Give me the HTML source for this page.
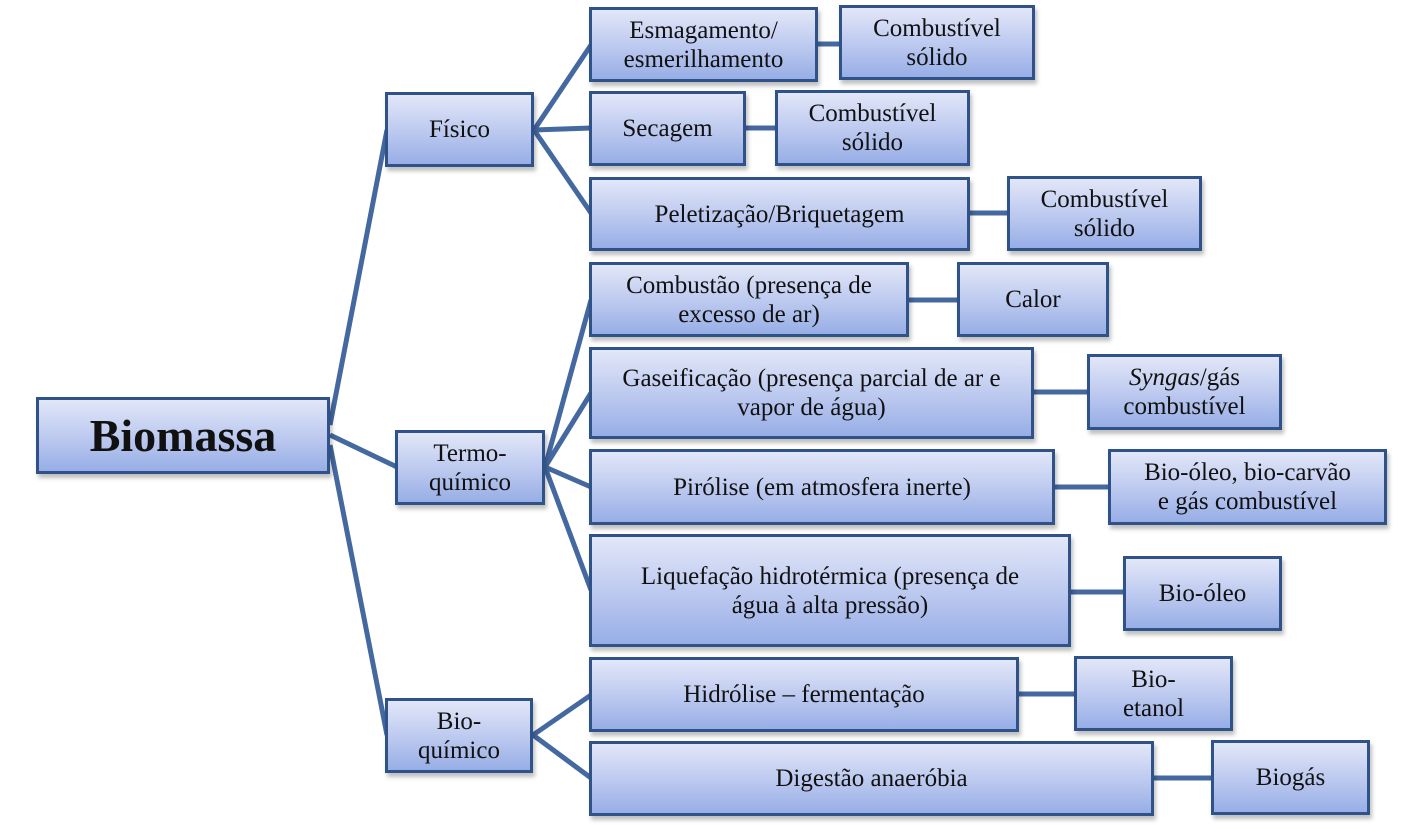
<!DOCTYPE html>
<html><head><meta charset="utf-8"><style>
body{margin:0;width:1425px;height:825px;background:#fff;position:relative;overflow:hidden;font-family:"Liberation Serif",serif;}
svg{position:absolute;left:0;top:0}
.b{position:absolute;box-sizing:border-box;border:3px solid #2f5289;background:linear-gradient(#e2e7f8,#b7c5ee 60%,#97aee6);display:flex;align-items:center;justify-content:center;text-align:center;font-size:25px;line-height:29px;color:#111;box-shadow:2px 4px 4px rgba(0,0,0,0.25);}
</style></head><body>
<svg width="1425" height="825"><g stroke="#4468a0" stroke-width="5" fill="none">
<line x1="330" y1="425" x2="387" y2="130"/>
<line x1="330" y1="435" x2="397" y2="467"/>
<line x1="330" y1="445" x2="387" y2="735"/>
<line x1="534" y1="130" x2="591" y2="45"/>
<line x1="534" y1="130" x2="591" y2="128"/>
<line x1="534" y1="130" x2="591" y2="213"/>
<line x1="545" y1="467" x2="591" y2="300"/>
<line x1="545" y1="467" x2="591" y2="393"/>
<line x1="545" y1="467" x2="591" y2="487"/>
<line x1="545" y1="467" x2="591" y2="590"/>
<line x1="533" y1="735" x2="591" y2="695"/>
<line x1="533" y1="735" x2="591" y2="778"/>
<line x1="818" y1="44" x2="841" y2="44"/>
<line x1="746" y1="128" x2="777" y2="128"/>
<line x1="970" y1="213" x2="1009" y2="213"/>
<line x1="909" y1="300" x2="959" y2="300"/>
<line x1="1034" y1="392" x2="1089" y2="392"/>
<line x1="1055" y1="487" x2="1110" y2="487"/>
<line x1="1071" y1="592" x2="1125" y2="592"/>
<line x1="1019" y1="694" x2="1076" y2="694"/>
<line x1="1154" y1="778" x2="1213" y2="778"/>
</g></svg>
<div class="b" style="left:36px;top:397px;width:294px;height:77px;font-size:46px;font-weight:bold;">Biomassa</div>
<div class="b" style="left:385px;top:92px;width:149px;height:75px">Físico</div>
<div class="b" style="left:395px;top:430px;width:150px;height:75px">Termo-<br>químico</div>
<div class="b" style="left:385px;top:698px;width:148px;height:75px">Bio-<br>químico</div>
<div class="b" style="left:589px;top:7px;width:229px;height:75px">Esmagamento/<br>esmerilhamento</div>
<div class="b" style="left:589px;top:91px;width:157px;height:75px">Secagem</div>
<div class="b" style="left:589px;top:177px;width:381px;height:74px">Peletização/Briquetagem</div>
<div class="b" style="left:589px;top:262px;width:320px;height:75px">Combustão (presença de<br>excesso de ar)</div>
<div class="b" style="left:589px;top:347px;width:445px;height:92px">Gaseificação (presença parcial de ar e<br>vapor de água)</div>
<div class="b" style="left:589px;top:449px;width:466px;height:76px">Pirólise (em atmosfera inerte)</div>
<div class="b" style="left:589px;top:534px;width:482px;height:113px">Liquefação hidrotérmica (presença de<br>água à alta pressão)</div>
<div class="b" style="left:589px;top:657px;width:430px;height:75px">Hidrólise – fermentação</div>
<div class="b" style="left:589px;top:741px;width:565px;height:75px">Digestão anaeróbia</div>
<div class="b" style="left:839px;top:5px;width:196px;height:75px">Combustível<br>sólido</div>
<div class="b" style="left:775px;top:90px;width:195px;height:76px">Combustível<br>sólido</div>
<div class="b" style="left:1007px;top:176px;width:195px;height:75px">Combustível<br>sólido</div>
<div class="b" style="left:957px;top:262px;width:152px;height:75px">Calor</div>
<div class="b" style="left:1087px;top:354px;width:195px;height:76px"><span><i>Syngas</i>/gás<br>combustível</span></div>
<div class="b" style="left:1108px;top:449px;width:279px;height:76px">Bio-óleo, bio-carvão<br>e gás combustível</div>
<div class="b" style="left:1123px;top:556px;width:159px;height:75px">Bio-óleo</div>
<div class="b" style="left:1074px;top:656px;width:159px;height:75px">Bio-<br>etanol</div>
<div class="b" style="left:1211px;top:740px;width:159px;height:75px">Biogás</div>
</body></html>
